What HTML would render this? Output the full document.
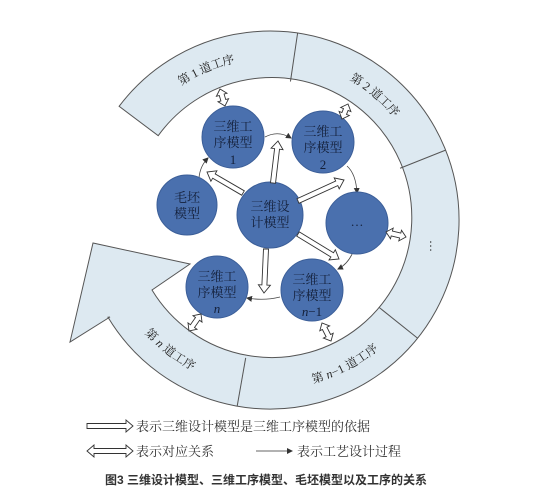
<!DOCTYPE html>
<html><head><meta charset="utf-8">
<style>
html,body{margin:0;padding:0;background:#fff;}
svg{display:block;}
.cj{font-family:"Liberation Serif","Noto Serif CJK SC",serif;}
</style></head>
<body>
<svg id="s" width="549" height="497" viewBox="0 0 549 497" xmlns="http://www.w3.org/2000/svg">
<defs>
<marker id="ah" markerWidth="6" markerHeight="6" refX="5" refY="3" orient="auto" markerUnits="userSpaceOnUse"><path d="M0,0 L6,3 L0,6 z" fill="#333"/></marker>
<path id="p1" d=""/><path id="p2" d=""/><path id="p3" d=""/><path id="p4" d=""/>
</defs>
<path id="ring" fill="#dde9f1" stroke="#555" stroke-width="1"/>
<g id="div" stroke="#555" stroke-width="1"></g>
<g class="cj" font-size="12" fill="#222">
<text><textPath href="#p1" startOffset="50%" text-anchor="middle" dominant-baseline="central">第 1 道工序</textPath></text>
<text><textPath href="#p2" startOffset="50%" text-anchor="middle" dominant-baseline="central">第 2 道工序</textPath></text>
<text><textPath href="#p3" startOffset="50%" text-anchor="middle" dominant-baseline="central">第 <tspan font-style="italic">n</tspan>−1 道工序</textPath></text>
<text><textPath href="#p4" startOffset="50%" text-anchor="middle" dominant-baseline="central">第 <tspan font-style="italic">n</tspan> 道工序</textPath></text>
<text x="434" y="246" text-anchor="middle" font-size="12" transform="rotate(90 434 246)" dominant-baseline="central">…</text>
</g>
<g id="thin" fill="none" stroke="#444" stroke-width="0.8">
<path d="M265,137 Q278,130 291,138" marker-end="url(#ah)"/>
<path d="M199,178 Q200,166 208,158" marker-end="url(#ah)"/>
<path d="M347,166 Q356,174 357,193" marker-end="url(#ah)"/>
<path d="M353,252 Q348,264 338,269" marker-end="url(#ah)"/>
<path d="M280,297 Q264,301 247,298" marker-end="url(#ah)"/>
</g>
<g id="circ" fill="#4a70ae" stroke="#3b5e98" stroke-width="1"></g>
<g id="arr" fill="#fff" stroke="#333" stroke-width="0.9"></g>
<g class="cj" font-size="13" fill="#14203a" text-anchor="middle">
<text x="233" y="131">三维工</text><text x="233" y="147">序模型</text><text x="233" y="164">1</text>
<text x="323" y="136">三维工</text><text x="323" y="152">序模型</text><text x="323" y="169">2</text>
<text x="187" y="202">毛坯</text><text x="187" y="218">模型</text>
<text x="270" y="211">三维设</text><text x="270" y="227">计模型</text>
<text x="357" y="226">…</text>
<text x="217" y="281">三维工</text><text x="217" y="297">序模型</text><text x="217" y="313" font-style="italic">n</text>
<text x="312" y="284">三维工</text><text x="312" y="300">序模型</text><text x="312" y="316"><tspan font-style="italic">n</tspan>−1</text>
</g>
<g id="leg" fill="#fff" stroke="#333" stroke-width="0.9"></g>
<path d="M256,451 L292,451" stroke="#333" stroke-width="0.8" marker-end="url(#ah)"/>
<g class="cj" font-size="13" fill="#333">
<text x="136" y="431">表示三维设计模型是三维工序模型的依据</text>
<text x="136" y="456">表示对应关系</text>
<text x="297" y="456">表示工艺设计过程</text>
</g>
<text x="105" y="484" font-family="'Liberation Sans','Noto Sans CJK SC',sans-serif" font-size="12" font-weight="bold" fill="#333">图3  三维设计模型、三维工序模型、毛坯模型以及工序的关系</text>
</svg>
<script>
var cx=270,cy=220,R=189,r=140,d2r=Math.PI/180;
function P(rad,a){return [cx+rad*Math.cos(a*d2r),cy+rad*Math.sin(a*d2r)];}
function f(p){return p[0].toFixed(1)+","+p[1].toFixed(1);}
var a0=-143,a1=149;
var d="M"+f(P(R,a0))+" A"+R+","+R+" 0 1 1 "+f(P(R,a1))
 +" L110,317 L70,342 L93,243 L190,264 L152,290"
 +" A"+r+","+r+" 0 1 0 "+f(P(r,a0))+" Z";
document.getElementById("ring").setAttribute("d",d);
var dv=document.getElementById("div"),h="";
[-81.6,-21.7,38.7,100].forEach(function(a){var p=P(r,a),q=P(R,a);h+='<line x1="'+p[0]+'" y1="'+p[1]+'" x2="'+q[0]+'" y2="'+q[1]+'"/>';});
dv.innerHTML=h;
function arc(id,rad,a,span,cw){var s,e;if(cw){s=P(rad,a-span);e=P(rad,a+span);document.getElementById(id).setAttribute("d","M"+f(s)+" A"+rad+","+rad+" 0 0 1 "+f(e));}
 else{s=P(rad,a+span);e=P(rad,a-span);document.getElementById(id).setAttribute("d","M"+f(s)+" A"+rad+","+rad+" 0 0 0 "+f(e));}}
arc("p1",165,-113,30,true);arc("p2",165,-50,30,true);arc("p3",165,62.6,30,false);arc("p4",165,127.6,30,false);
var c=document.getElementById("circ");h="";
[[233,137,31],[323,142,31],[357,223,31],[312,290,31],[217,287,31],[187,205,30],[270,215,33]].forEach(function(k){h+='<circle cx="'+k[0]+'" cy="'+k[1]+'" r="'+k[2]+'"/>';});
c.innerHTML=h;
function harrow(x1,y1,x2,y2,dbl,w,hw,hl){w=w||2.5;hw=hw||6;hl=hl||8;
 var dx=x2-x1,dy=y2-y1,L=Math.hypot(dx,dy),ux=dx/L,uy=dy/L,nx=-uy,ny=ux;
 function pt(t,o){return (x1+ux*t+nx*o).toFixed(1)+","+(y1+uy*t+ny*o).toFixed(1);}
 var pts=[];
 if(dbl){pts=[pt(0,0),pt(hl,hw),pt(hl,w),pt(L-hl,w),pt(L-hl,hw),pt(L,0),pt(L-hl,-hw),pt(L-hl,-w),pt(hl,-w),pt(hl,-hw)];}
 else{pts=[pt(0,w),pt(L-hl,w),pt(L-hl,hw),pt(L,0),pt(L-hl,-hw),pt(L-hl,-w),pt(0,-w)];}
 return '<polygon points="'+pts.join(" ")+'"/>';}
var a=document.getElementById("arr");h="";
h+=harrow(273,183,278,141,false);
h+=harrow(243,193,207,172,false);
h+=harrow(298,201,344,180,false);
h+=harrow(298,234,339,259,false);
h+=harrow(266,249,264,293,false);
h+=harrow(220,89,225,106,true,2.5,5.5,6);
h+=harrow(348,104,342,119,true,2.5,5.5,6);
h+=harrow(386,232,406,237,true,2.5,5.5,6);
h+=harrow(322,323,331,341,true,2.5,5.5,6);
h+=harrow(201,314,189,331,true,2.5,5.5,6);
a.innerHTML=h;
var lg=document.getElementById("leg");
lg.innerHTML=harrow(87,426,133,426,false,2.5,6,7)+harrow(87,451,133,451,true,2.5,6,7);
</script>
</body></html>
